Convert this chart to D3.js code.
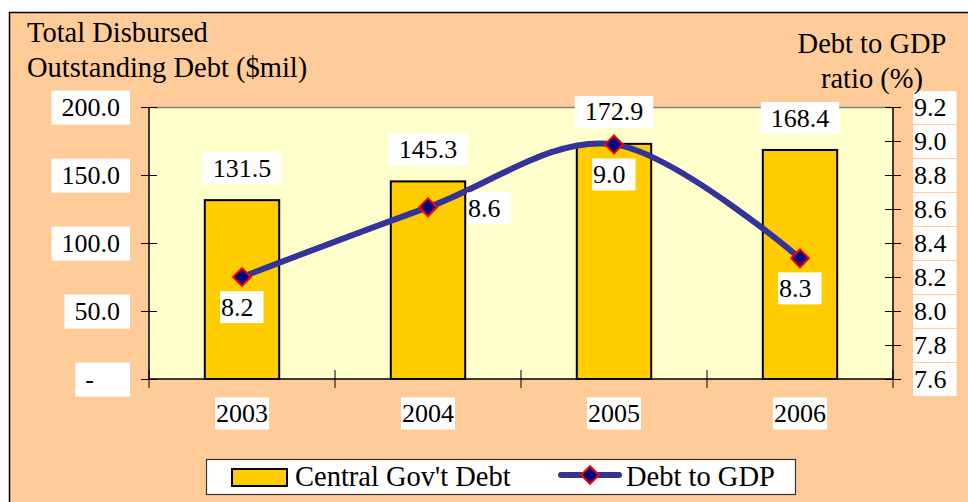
<!DOCTYPE html>
<html>
<head>
<meta charset="utf-8">
<script src="https://cdn.jsdelivr.net/npm/d3@7"></script>
<style>
  html, body { margin: 0; padding: 0; background: #fff; }
  svg { display: block; font-family: "Liberation Serif", "DejaVu Serif", serif; }
</style>
</head>
<body>
<div id="chart"></div>
<script>
// chart data
const years = ["2003", "2004", "2005", "2006"];
const debt = [131.5, 145.3, 172.9, 168.4];
const debtToGdp = [8.2, 8.61, 8.98, 8.31];
const leftTicks = [0, 50, 100, 150, 200];
const rightTicks = [7.6, 7.8, 8.0, 8.2, 8.4, 8.6, 8.8, 9.0, 9.2];
const lineLabelPos = ["below", "right", "below", "below"];

const width = 968, height = 502;
const margin = { top: 107, right: 75, bottom: 123, left: 149 };
const fontSize = 26;
const wordSize = 28.5; // titles + legend, wider like the original face

const svg = d3.select("#chart").append("svg")
    .attr("width", width)
    .attr("height", height)
    .style("font-size", fontSize + "px");

// -- chart area background --
svg.append("rect")
    .attr("x", 9.5).attr("y", 12.5)
    .attr("width", width + 20).attr("height", height + 20)
    .attr("fill", "#FFCC99")
    .attr("stroke", "#000")
    .attr("stroke-width", 1.5);

const x0 = margin.left, x1 = width - margin.right;
const y0 = height - margin.bottom, y1 = margin.top;

const x = d3.scaleBand().domain(years).range([x0, x1]);
const yLeft = d3.scaleLinear().domain([0, 200]).range([y0, y1]);
const yRight = d3.scaleLinear().domain([7.6, 9.2]).range([y0, y1]);

// plot area
svg.append("rect")
    .attr("x", x0).attr("y", y1)
    .attr("width", x1 - x0).attr("height", y0 - y1)
    .attr("fill", "#FFFFCC");
svg.append("line")
    .attr("x1", x0).attr("x2", x1)
    .attr("y1", y1 + 0.5).attr("y2", y1 + 0.5)
    .attr("stroke", "#808080").attr("stroke-width", 1.5);

// put a white box behind a text node
function boxBehind(textSel, padL, padR, boxH) {
    textSel.each(function () {
        const b = this.getBBox();
        const cy = b.y + b.height / 2;
        d3.select(this.parentNode).insert("rect", function () { return this; }.bind(this))
            .attr("x", b.x - padL)
            .attr("y", cy - boxH / 2)
            .attr("width", b.width + padL + padR)
            .attr("height", boxH)
            .attr("fill", "#fff");
    });
}

// -- bars --
const barW = x.bandwidth() * 0.4;
svg.append("g").selectAll("rect")
    .data(years)
    .join("rect")
    .attr("x", d => x(d) + (x.bandwidth() - barW) / 2)
    .attr("y", (d, i) => yLeft(debt[i]))
    .attr("width", barW)
    .attr("height", (d, i) => y0 - yLeft(debt[i]))
    .attr("fill", "#FFCC00")
    .attr("stroke", "#000")
    .attr("stroke-width", 2);

// -- left axis --
const axL = svg.append("g")
    .attr("transform", `translate(${x0},0)`)
    .call(d3.axisLeft(yLeft).tickValues(leftTicks).tickSize(8).tickPadding(21)
        .tickFormat(d => d === 0 ? "-\u2007\u2007" : d3.format(".1f")(d)));
axL.select(".domain").attr("stroke", "#000").attr("stroke-width", 1.5).attr("d", `M0,${y1}V${y0}`);
axL.selectAll(".tick line").attr("x2", -8).attr("x1", 8).attr("stroke", "#000");
axL.selectAll(".tick text").attr("font-size", fontSize).attr("fill", "#000")
    .attr("font-family", "Liberation Serif").attr("dy", "0.33em");
boxBehind(axL.selectAll(".tick text"), 10, 10, 34);

// -- right axis --
const axR = svg.append("g")
    .attr("transform", `translate(${x1},0)`)
    .call(d3.axisRight(yRight).tickValues(rightTicks).tickSize(8).tickPadding(13)
        .tickFormat(d3.format(".1f")));
axR.select(".domain").attr("stroke", "#000").attr("stroke-width", 1.5).attr("d", `M0,${y1}V${y0}`);
axR.selectAll(".tick line").attr("x1", -8).attr("x2", 8).attr("stroke", "#000");
axR.selectAll(".tick text").attr("font-size", fontSize).attr("fill", "#000")
    .attr("font-family", "Liberation Serif").attr("dy", "0.33em");
boxBehind(axR.selectAll(".tick text"), 1, 10, 33);

// -- bottom axis --
const axB = svg.append("g")
    .attr("transform", `translate(0,${y0})`)
    .call(d3.axisBottom(x).tickSize(0).tickPadding(30));
axB.select(".domain").attr("stroke", "#000").attr("stroke-width", 1.5).attr("d", `M${x0},0H${x1}`);
axB.selectAll(".tick text").attr("font-size", fontSize).attr("fill", "#000")
    .attr("font-family", "Liberation Serif").attr("dy", "0.5em");
boxBehind(axB.selectAll(".tick text"), 1, 1, 32);
axB.append("g").selectAll("line")
    .data(d3.range(years.length + 1))
    .join("line")
    .attr("x1", i => x0 + i * x.step()).attr("x2", i => x0 + i * x.step())
    .attr("y1", -9).attr("y2", 9)
    .attr("stroke", "#000");

// -- bar value labels --
const barLabels = svg.append("g").selectAll("g")
    .data(years)
    .join("g");
barLabels.append("text")
    .attr("x", d => x(d) + x.bandwidth() / 2)
    .attr("y", (d, i) => yLeft(debt[i]) - 32)
    .attr("dy", "0.33em")
    .attr("text-anchor", "middle")
    .text((d, i) => d3.format(".1f")(debt[i]));
boxBehind(barLabels.selectAll("text"), 10, 10, 32);

// -- debt to GDP line --
const line = d3.line()
    .x((d, i) => x(years[i]) + x.bandwidth() / 2)
    .y(d => yRight(d))
    .curve(d3.curveCardinal.tension(0));
svg.append("path")
    .datum(debtToGdp)
    .attr("d", line)
    .attr("fill", "none")
    .attr("stroke", "#333399")
    .attr("stroke-width", 6);

const marker = d3.symbol(d3.symbolSquare, 160);
svg.append("g").selectAll("path")
    .data(debtToGdp)
    .join("path")
    .attr("d", marker)
    .attr("transform", (d, i) => `translate(${x(years[i]) + x.bandwidth() / 2},${yRight(d)}) rotate(45)`)
    .attr("fill", "#000080")
    .attr("stroke", "#FF0000")
    .attr("stroke-width", 2);

// line labels
const lineLabels = svg.append("g").selectAll("g")
    .data(debtToGdp)
    .join("g");
lineLabels.append("text")
    .attr("x", (d, i) => x(years[i]) + x.bandwidth() / 2 + (lineLabelPos[i] === "right" ? 40 : -21))
    .attr("y", (d, i) => yRight(d) + (lineLabelPos[i] === "right" ? 1 : 30))
    .attr("dy", "0.33em")
    .text(d => d3.format(".1f")(d));
boxBehind(lineLabels.selectAll("text"), 1, 10, 32);

// -- axis titles --
const titleL = svg.append("text").style("font-size", wordSize + "px");
titleL.append("tspan").attr("x", 27).attr("y", 42).text("Total Disbursed");
titleL.append("tspan").attr("x", 27).attr("y", 77).text("Outstanding Debt ($mil)");

const titleR = svg.append("text").attr("text-anchor", "middle").style("font-size", wordSize + "px");
titleR.append("tspan").attr("x", 872).attr("y", 53).text("Debt to GDP");
titleR.append("tspan").attr("x", 872).attr("y", 88).text("ratio (%)");

// -- legend --
const legend = svg.append("g").style("font-size", wordSize + "px");
legend.append("rect")
    .attr("x", 206.5).attr("y", 459.5)
    .attr("width", 589).attr("height", 35)
    .attr("fill", "#fff")
    .attr("stroke", "#333").attr("stroke-width", 1.2);
legend.append("rect")
    .attr("x", 232).attr("y", 469)
    .attr("width", 55).attr("height", 17)
    .attr("fill", "#FFCC00").attr("stroke", "#000").attr("stroke-width", 2);
legend.append("text").attr("x", 295).attr("y", 486).text("Central Gov't Debt");
legend.append("line")
    .attr("x1", 561).attr("x2", 619).attr("y1", 475).attr("y2", 475)
    .attr("stroke", "#333399").attr("stroke-width", 6).attr("stroke-linecap", "round");
legend.append("path")
    .attr("d", marker)
    .attr("transform", "translate(590,475) rotate(45)")
    .attr("fill", "#000080").attr("stroke", "#FF0000").attr("stroke-width", 2);
legend.append("text").attr("x", 626).attr("y", 486).text("Debt to GDP");
</script>
</body>
</html>
